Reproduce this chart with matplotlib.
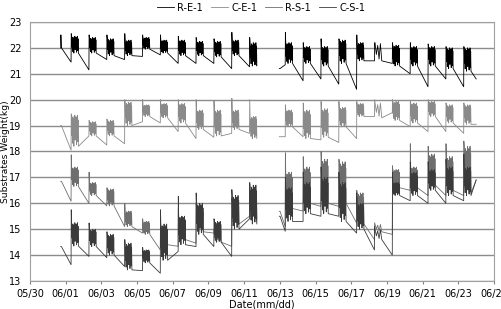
import numpy as np
import matplotlib.pyplot as plt

# x is days after 05/30
date_labels = ['05/30', '06/01', '06/03', '06/05', '06/07', '06/09', '06/11',
               '06/13', '06/15', '06/17', '06/19', '06/21', '06/23', '06/25']
days = [2, 3, 4, 5, 6, 7, 8, 9, 10, 11, 12,
        14, 15, 16, 17, 18, 19, 20, 21, 22, 23, 24]
pulses = [11, 11, 11, 11, 11, 11, 11, 11, 11, 11, 11,
          11, 11, 11, 11, 11, 3, 11, 11, 11, 11, 11]
seg_start = [1.72, 13.97]
seg_end = [12.65, 25.0]
# shape of the irrigation blob between lo (0) and hi (1)
blob_shape = [1.0, 0.35, 0.85, 0.1, 0.95, 0.55, 0.7, 0.0, 0.9, 0.4, 1.0, 0.2,
              0.75, 0.45, 0.95, 0.05, 0.8, 0.3, 1.0, 0.15, 0.85, 0.5]

# R-E-1
re1_start_lo = [22.0, 21.2]
re1_start_hi = [22.5, 21.2]
re1_base = [21.45, 21.15, 21.55, 21.55, 21.67, 21.73, 21.4, 21.4, 21.4, 21.2, 21.27,
            21.35, 20.73, 20.8, 20.6, 20.4, 21.5, 21.4, 21.0, 20.5, 20.8, 20.5]
re1_peak = [22.55, 22.5, 22.5, 22.55, 22.5, 22.5, 22.45, 22.4, 22.35, 22.6, 22.4,
            22.6, 22.2, 22.35, 22.35, 22.5, 22.2, 22.2, 22.2, 22.15, 22.05, 22.05]
re1_hi = [22.45, 22.4, 22.35, 22.3, 22.4, 22.3, 22.3, 22.25, 22.25, 22.3, 22.2,
          22.2, 22.05, 22.05, 22.3, 22.2, 22.2, 22.1, 22.05, 22.05, 22.0, 22.0]
re1_lo = [21.8, 21.8, 21.7, 21.7, 21.95, 21.8, 21.7, 21.7, 21.65, 21.7, 21.3,
          21.4, 21.4, 21.3, 21.4, 21.5, 21.5, 21.3, 21.3, 21.3, 21.2, 21.1]
re1_end = [21.4, 20.8]

# C-E-1
ce1_start_lo = [19.0, 18.57]
ce1_start_hi = [19.0, 18.57]
ce1_base = [18.05, 18.6, 18.25, 18.3, 19.15, 19.1, 18.77, 18.5, 18.55, 18.7, 18.7,
            18.57, 18.57, 18.45, 18.35, 18.5, 19.35, 19.5, 18.96, 18.77, 18.77, 18.7]
ce1_peak = [19.45, 19.2, 19.25, 20.0, 20.0, 20.0, 20.0, 20.0, 19.95, 20.05, 20.0,
            19.8, 19.87, 19.93, 19.93, 19.93, 20.0, 20.0, 19.93, 20.0, 19.87, 19.87]
ce1_hi = [19.4, 19.15, 19.2, 19.9, 19.8, 19.85, 19.85, 19.6, 19.6, 19.6, 19.35,
          19.6, 19.6, 19.65, 19.7, 19.85, 19.9, 19.93, 19.87, 19.93, 19.8, 19.8]
ce1_lo = [18.2, 18.6, 18.6, 19.0, 19.35, 19.3, 19.1, 18.85, 18.6, 18.85, 18.5,
          18.95, 18.5, 18.55, 18.95, 19.35, 19.3, 19.2, 19.1, 19.35, 19.1, 19.05]
ce1_end = [18.9, 19.05]

# R-S-1
rs1_start_lo = [16.85, 15.69]
rs1_start_hi = [16.85, 15.69]
rs1_base = [16.08, 16.0, 15.9, 15.1, 14.85, 14.2, 14.34, 14.46, 14.85, 14.34, 15.5,
            15.1, 15.7, 15.88, 15.88, 15.24, 14.6, 14.8, 16.5, 16.3, 16.3, 16.3]
rs1_peak = [17.87, 17.2, 16.6, 16.0, 15.4, 15.3, 15.8, 16.0, 15.0, 16.2, 16.5,
            17.95, 17.8, 18.0, 17.7, 16.5, 15.25, 17.45, 18.3, 18.2, 18.3, 18.4]
rs1_hi = [17.4, 16.8, 16.55, 15.7, 15.3, 15.1, 15.5, 15.8, 15.0, 16.0, 16.3,
          17.2, 17.4, 17.7, 17.6, 16.4, 15.2, 17.3, 17.4, 17.9, 17.8, 18.2]
rs1_lo = [16.65, 16.3, 15.9, 15.1, 14.8, 14.4, 14.6, 14.9, 14.5, 15.2, 15.4,
          15.8, 16.0, 16.0, 16.0, 15.2, 14.9, 16.6, 16.6, 16.7, 16.5, 16.4]
rs1_end = [15.8, 16.9]

# C-S-1
cs1_start_lo = [14.33, 15.5]
cs1_start_hi = [14.33, 15.5]
cs1_base = [13.63, 13.95, 13.9, 13.56, 13.4, 13.3, 14.14, 14.33, 14.33, 13.95, 15.4,
            14.92, 15.3, 15.5, 15.5, 14.85, 14.2, 14.0, 16.1, 16.0, 16.0, 16.1]
cs1_peak = [15.75, 15.24, 14.9, 14.6, 14.3, 15.75, 16.27, 16.4, 15.4, 16.53, 16.8,
            17.0, 17.2, 17.4, 17.2, 16.4, 15.1, 17.2, 17.6, 17.6, 17.7, 17.9]
cs1_hi = [15.25, 15.0, 14.8, 14.46, 14.2, 15.2, 15.5, 16.0, 15.3, 16.3, 16.7,
          16.6, 16.8, 17.0, 16.8, 16.0, 15.0, 16.8, 17.2, 17.3, 17.4, 17.4]
cs1_lo = [14.35, 14.33, 14.0, 13.43, 13.7, 13.8, 14.4, 14.8, 14.5, 15.0, 15.2,
          15.3, 15.6, 15.6, 15.3, 15.0, 14.6, 16.3, 16.3, 16.5, 16.3, 16.3]
cs1_end = [15.6, 16.9]


def build(start_lo, start_hi, base, peak, hi, lo, end):
    t, v = [], []
    for s in range(2):
        t0 = seg_start[s]
        t += [t0, t0 + 0.01, t0 + 0.04]
        v += [start_lo[s], start_hi[s], start_lo[s]]
        for i, d in enumerate(days):
            if (d < 13) != (s == 0):
                continue
            t += [d + 0.30, d + 0.31]
            v += [base[i], peak[i]]
            n = 2 * pulses[i]
            t += list(np.linspace(d + 0.33, d + 0.71, n))
            v += [lo[i] + f * (hi[i] - lo[i]) for f in blob_shape[:n - 1]] + [lo[i]]
        t += [seg_end[s], np.nan]
        v += [end[s], np.nan]
    return t, v


fig = plt.figure(figsize=(5.02, 3.09), dpi=100)
ax = fig.add_axes([0.0598, 0.0906, 0.9243, 0.8383])

lines = [
    ('R-E-1', '#000000', 5, build(re1_start_lo, re1_start_hi, re1_base, re1_peak, re1_hi, re1_lo, re1_end)),
    ('C-E-1', '#8a8a8a', 4, build(ce1_start_lo, ce1_start_hi, ce1_base, ce1_peak, ce1_hi, ce1_lo, ce1_end)),
    ('R-S-1', '#6e6e6e', 3, build(rs1_start_lo, rs1_start_hi, rs1_base, rs1_peak, rs1_hi, rs1_lo, rs1_end)),
    ('C-S-1', '#3a3a3a', 3, build(cs1_start_lo, cs1_start_hi, cs1_base, cs1_peak, cs1_hi, cs1_lo, cs1_end)),
]
for name, col, z, (t, v) in lines:
    ax.plot(t, v, color=col, lw=0.6, label=name, zorder=z)

ax.set_xlim(0, 26)
ax.set_ylim(13, 23)
ax.set_xticks(range(0, 27, 2))
ax.set_xticklabels(date_labels)
ax.set_yticks(range(13, 24))
ax.yaxis.grid(True, color='#8c8c8c', lw=1.0)
ax.set_axisbelow(True)
for sp in ax.spines.values():
    sp.set_color('#a0a0a0')
ax.tick_params(axis='x', length=2, color='#808080', labelsize=7, pad=4)
ax.tick_params(axis='y', length=0, labelsize=7, pad=6)
ax.set_xlabel('Date(mm/dd)', fontsize=7, labelpad=0)
ax.set_ylabel('Substrates Weight(kg)', fontsize=6.6)
ax.yaxis.set_label_coords(-0.044, 0.5)

fig.legend(loc='upper center', bbox_to_anchor=(0.52, 1.02), ncol=4, frameon=False,
           fontsize=7, handlelength=1.8, handletextpad=0.3, columnspacing=0.8)

fig.savefig('out.png', dpi=100)
